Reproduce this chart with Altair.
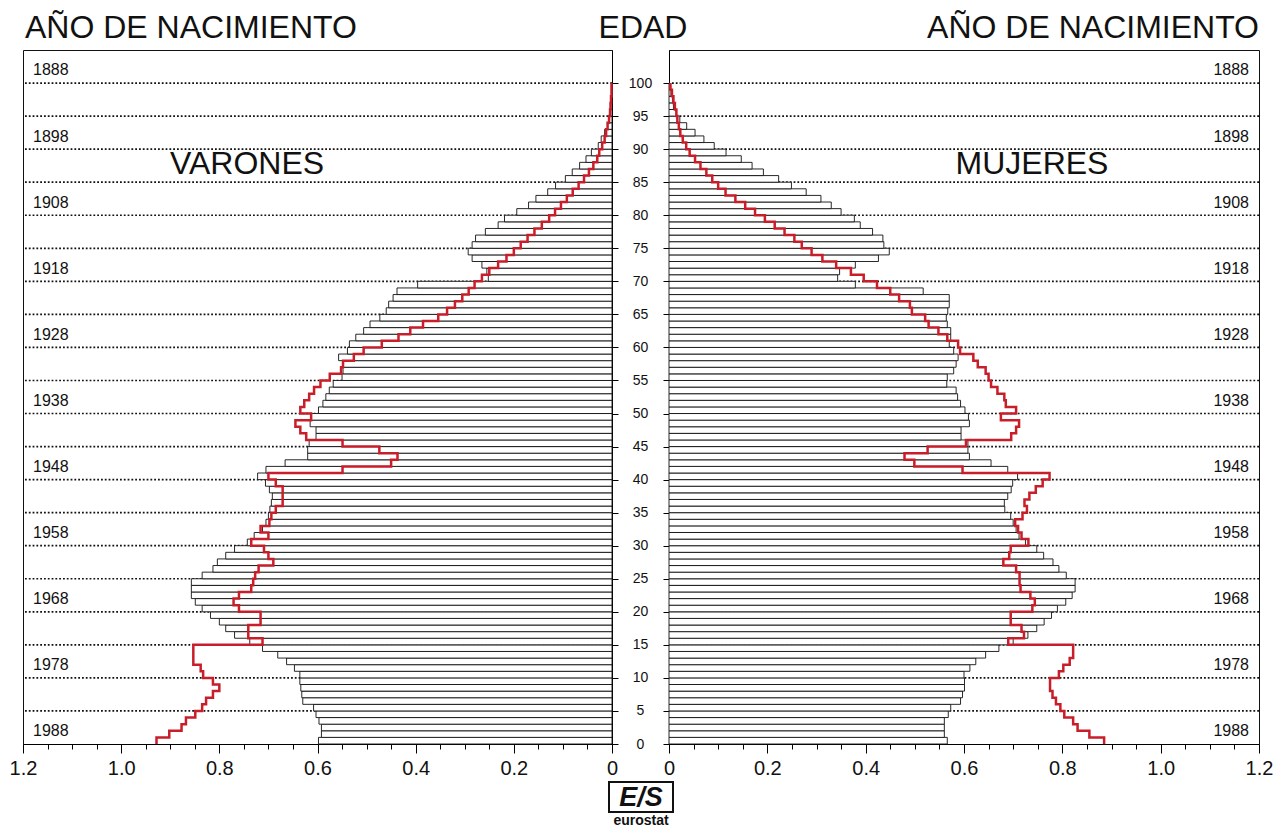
import altair as alt
import pandas as pd

# ---------------- data ----------------
ages = list(range(100))

# EU reference population, men (bars, left panel) ages 0..99
eu_men = [0.598, 0.592, 0.592, 0.597, 0.603, 0.608, 0.630, 0.632, 0.634, 0.636,
          0.636, 0.647, 0.663, 0.681, 0.712, 0.738, 0.769, 0.787, 0.800, 0.818,
          0.835, 0.849, 0.857, 0.857, 0.857, 0.835, 0.813, 0.804, 0.787, 0.769,
          0.743, 0.729, 0.712, 0.705, 0.700, 0.697, 0.694, 0.692, 0.698, 0.706,
          0.722, 0.705, 0.666, 0.620, 0.620, 0.617, 0.603, 0.603, 0.615, 0.613,
          0.598, 0.589, 0.583, 0.576, 0.568, 0.550, 0.548, 0.548, 0.557, 0.539,
          0.535, 0.522, 0.506, 0.493, 0.473, 0.460, 0.455, 0.446, 0.438, 0.396,
          0.252, 0.255, 0.265, 0.285, 0.293, 0.285, 0.278, 0.258, 0.232, 0.219,
          0.194, 0.170, 0.155, 0.131, 0.115, 0.095, 0.081, 0.066, 0.053, 0.042,
          0.028, 0.022, 0.015, 0.009, 0.006, 0.004, 0.003, 0.002, 0.001, 0.001]

# EU reference population, women (bars, right panel)
eu_women = [0.566, 0.560, 0.560, 0.560, 0.568, 0.573, 0.593, 0.597, 0.601, 0.601,
            0.600, 0.612, 0.624, 0.644, 0.671, 0.700, 0.730, 0.748, 0.763, 0.778,
            0.790, 0.807, 0.820, 0.826, 0.826, 0.808, 0.793, 0.781, 0.762, 0.748,
            0.725, 0.712, 0.706, 0.700, 0.695, 0.683, 0.682, 0.689, 0.696, 0.699,
            0.709, 0.689, 0.655, 0.611, 0.608, 0.608, 0.594, 0.594, 0.611, 0.609,
            0.602, 0.593, 0.587, 0.584, 0.565, 0.566, 0.579, 0.584, 0.588, 0.579,
            0.570, 0.573, 0.573, 0.566, 0.564, 0.567, 0.570, 0.570, 0.517, 0.379,
            0.343, 0.347, 0.379, 0.426, 0.448, 0.437, 0.435, 0.414, 0.389, 0.377,
            0.350, 0.330, 0.309, 0.279, 0.249, 0.223, 0.192, 0.169, 0.147, 0.116,
            0.092, 0.071, 0.053, 0.036, 0.022, 0.015, 0.009, 0.007, 0.004, 0.002]

# country profile, men (red step line)
red_men = [0.928, 0.902, 0.877, 0.868, 0.849, 0.835, 0.827, 0.813, 0.800, 0.813,
           0.833, 0.838, 0.853, 0.853, 0.853, 0.712, 0.741, 0.741, 0.716, 0.716,
           0.760, 0.771, 0.760, 0.735, 0.731, 0.727, 0.720, 0.690, 0.700, 0.709,
           0.735, 0.700, 0.716, 0.698, 0.694, 0.685, 0.671, 0.671, 0.671, 0.685,
           0.700, 0.549, 0.450, 0.437, 0.474, 0.549, 0.623, 0.635, 0.645, 0.613,
           0.635, 0.627, 0.617, 0.607, 0.594, 0.575, 0.552, 0.548, 0.526, 0.506,
           0.469, 0.435, 0.411, 0.385, 0.354, 0.336, 0.320, 0.305, 0.292, 0.280,
           0.265, 0.250, 0.232, 0.215, 0.200, 0.186, 0.172, 0.158, 0.143, 0.128,
           0.116, 0.104, 0.092, 0.080, 0.068, 0.057, 0.047, 0.038, 0.030, 0.026,
           0.020, 0.015, 0.012, 0.009, 0.006, 0.004, 0.003, 0.002, 0.001, 0.001]

# country profile, women (red step line)
red_women = [0.885, 0.855, 0.831, 0.822, 0.804, 0.796, 0.787, 0.780, 0.775, 0.775,
             0.793, 0.802, 0.815, 0.822, 0.822, 0.690, 0.722, 0.717, 0.695, 0.695,
             0.739, 0.744, 0.735, 0.715, 0.713, 0.713, 0.706, 0.680, 0.692, 0.695,
             0.731, 0.717, 0.710, 0.704, 0.719, 0.728, 0.723, 0.733, 0.746, 0.760,
             0.774, 0.597, 0.499, 0.479, 0.526, 0.604, 0.696, 0.706, 0.712, 0.675,
             0.706, 0.685, 0.682, 0.668, 0.655, 0.650, 0.644, 0.628, 0.619, 0.592,
             0.588, 0.566, 0.548, 0.528, 0.521, 0.494, 0.490, 0.468, 0.450, 0.423,
             0.396, 0.370, 0.340, 0.312, 0.290, 0.270, 0.255, 0.235, 0.215, 0.195,
             0.175, 0.155, 0.135, 0.115, 0.100, 0.088, 0.076, 0.064, 0.053, 0.042,
             0.035, 0.028, 0.023, 0.020, 0.017, 0.015, 0.012, 0.009, 0.006, 0.003]

age_ticks = [0, 5, 10, 15, 20, 25, 30, 35, 40, 45, 50, 55, 60, 65, 70, 75, 80, 85, 90, 95, 100]
grid_ages = [5, 10, 15, 20, 25, 30, 35, 40, 45, 50, 55, 60, 65, 70, 75, 80, 85, 90, 95, 100]
birth_years = [1888, 1898, 1908, 1918, 1928, 1938, 1948, 1958, 1968, 1978, 1988]
birth_label_age = [101.9, 91.9, 81.9, 71.9, 61.9, 51.9, 41.9, 31.9, 21.9, 11.9, 1.9]
x_ticks = [0, 0.05, 0.1, 0.15, 0.2, 0.25, 0.3, 0.35, 0.4, 0.45, 0.5, 0.55, 0.6,
           0.65, 0.7, 0.75, 0.8, 0.85, 0.9, 0.95, 1.0, 1.05, 1.1, 1.15, 1.2]

FONT = "Liberation Sans"
H = 694
W_L = 589
W_R = 590
RED = "#c81e2a"
HEAD_FS = 32
HEAD_Y = -12

major_test = "abs(datum.value*5 - round(datum.value*5)) < 0.001"


def xaxis():
    return alt.Axis(
        values=x_ticks, title=None, grid=False,
        labelExpr=f"{major_test} ? (datum.value == 0 ? '0' : format(datum.value, '.1f')) : ''",
        tickSize={"condition": {"test": major_test, "value": 9}, "value": 5},
        labelFontSize=20, labelFont=FONT, labelColor="#111", labelPadding=5,
        labelOverlap=False, labelFlush=False, labelBound=False,
        domainColor="black", tickColor="black", tickWidth=1,
    )


def text_df(t):
    return pd.DataFrame({"t": [t]})


def panel(eu, red, side):
    left = side == "left"
    W = W_L if left else W_R
    xs = alt.Scale(domain=[0, 1.2], reverse=left, nice=False)
    ys = alt.Scale(domain=[0, 105], nice=False)

    bars_df = pd.DataFrame({"age": ages, "age2": [a + 1 for a in ages],
                            "v": eu, "zero": [0.0] * len(ages)})
    line_df = pd.DataFrame({"age": ages + [100], "v": red + [red[-1]]})
    grid_df = pd.DataFrame({"age": grid_ages})
    yl_df = pd.DataFrame({"year": [str(y) for y in birth_years], "age": birth_label_age})

    if left:
        yaxis = alt.Axis(values=age_ticks, orient="right", title=None, grid=False,
                         tickSize=6, labelAlign="center", labelPadding=22,
                         labelFontSize=14, labelFont=FONT, labelColor="#111",
                         labelOverlap=False, labelFlush=False, labelBaseline="middle",
                         domainColor="black", tickColor="black")
    else:
        yaxis = alt.Axis(values=age_ticks, orient="left", title=None, grid=False,
                         tickSize=6, labels=False, domainColor="black", tickColor="black")

    grid = alt.Chart(grid_df).mark_rule(
        color="#111", strokeWidth=1.7, strokeDash=[1.8, 2.0]
    ).encode(y=alt.Y("age:Q", scale=ys, axis=yaxis))

    bars = alt.Chart(bars_df).mark_rect(
        fill="white", stroke="#111", strokeWidth=0.9
    ).encode(
        x=alt.X("v:Q", scale=xs, axis=xaxis()),
        x2="zero:Q",
        y=alt.Y("age:Q", scale=ys, axis=yaxis),
        y2="age2:Q",
    )

    line = alt.Chart(line_df).mark_line(
        interpolate="step-before", color=RED, strokeWidth=2.5
    ).encode(
        x=alt.X("v:Q", scale=xs, axis=xaxis()),
        y=alt.Y("age:Q", scale=ys, axis=yaxis),
        order="age:Q",
    )

    ylabels = alt.Chart(yl_df).mark_text(
        font=FONT, fontSize=16, color="#111",
        align="left" if left else "right", baseline="middle"
    ).encode(
        x=alt.value(10 if left else W - 10),
        y=alt.Y("age:Q", scale=ys, axis=yaxis),
        text="year:N",
    )

    sex = "VARONES" if left else "MUJERES"
    sex_txt = alt.Chart(text_df(sex)).mark_text(
        font=FONT, fontSize=32, color="#111", align="center", baseline="middle"
    ).encode(x=alt.value(224 if left else 363), y=alt.value(114), text="t:N")

    head = alt.Chart(text_df("AÑO DE NACIMIENTO")).mark_text(
        font=FONT, fontSize=HEAD_FS, color="#111",
        align="left" if left else "right", baseline="alphabetic"
    ).encode(x=alt.value(2 if left else W), y=alt.value(HEAD_Y), text="t:N")

    layers = [grid, bars, line, ylabels, sex_txt, head]

    if left:
        edad = alt.Chart(text_df("EDAD")).mark_text(
            font=FONT, fontSize=HEAD_FS, color="#111", align="center", baseline="alphabetic"
        ).encode(x=alt.value(620), y=alt.value(HEAD_Y), text="t:N")
        logo_box = alt.Chart(text_df("box")).mark_rect(
            fill="white", stroke="#111", strokeWidth=2
        ).encode(x=alt.value(586), x2=alt.value(650),
                 y=alt.value(H + 38), y2=alt.value(H + 68))
        logo_es = alt.Chart(text_df("E/S")).mark_text(
            font=FONT, fontSize=27, fontWeight="bold", fontStyle="italic",
            color="#111", align="center", baseline="middle"
        ).encode(x=alt.value(618), y=alt.value(H + 54), text="t:N")
        logo_txt = alt.Chart(text_df("eurostat")).mark_text(
            font=FONT, fontSize=14, fontWeight="bold", color="#111",
            align="center", baseline="middle"
        ).encode(x=alt.value(618), y=alt.value(H + 77), text="t:N")
        layers += [edad, logo_box, logo_es, logo_txt]

    return alt.layer(*layers).properties(width=W, height=H)


left_panel = panel(eu_men, red_men, "left")
right_panel = panel(eu_women, red_women, "right")

chart = alt.hconcat(left_panel, right_panel, spacing=57, bounds="flush").properties(
    padding={"left": 0, "top": 3, "right": 0, "bottom": 0},
    background="white",
).configure_view(stroke="#111", strokeWidth=1)

chart.save("out.html", embed_options={"renderer": "svg", "actions": False})
